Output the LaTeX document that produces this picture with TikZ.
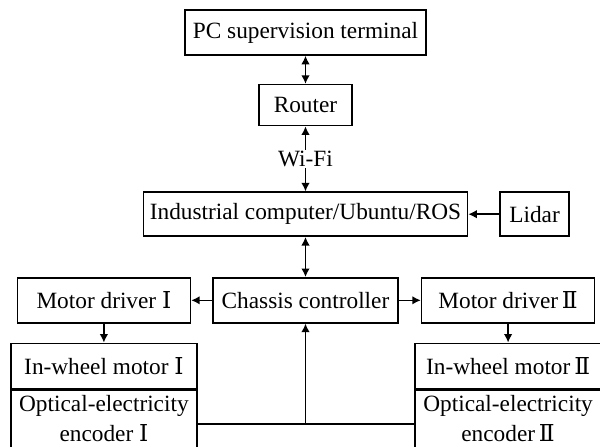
\documentclass[tikz,border=0pt]{standalone}
\usepackage{fontspec}
\setmainfont{Liberation Serif}
\newfontfamily\rnfont{DejaVu Serif}
\usetikzlibrary{arrows.meta,positioning}

\newcommand{\rn}[1]{{\rnfont #1}}

\begin{document}
\begin{tikzpicture}[x=1pt,y=-1pt,
  font=\fontsize{23.3}{30}\selectfont,
  block/.style={draw,line width=1.6pt,inner sep=1pt,align=center,minimum height=45pt},
  arrow/.style={-{Latex[length=8.5pt,width=8.5pt]}, line width=1.5pt},
  dblarrow/.style={{Latex[length=8.5pt,width=8.5pt]}-{Latex[length=8.5pt,width=8.5pt]}, line width=1.5pt}]
  \clip (0,0) rectangle (600,447);
  \node[block, minimum width=241pt] (pc) at (305.5,32.5) {PC supervision terminal};
  \node[block, minimum width=93pt, minimum height=41pt, below=28pt of pc] (router) {Router};
  \node[block, minimum width=324pt, minimum height=44pt, below=65pt of router] (ipc) {Industrial computer/Ubuntu/ROS};
  \node[block, minimum width=69pt, minimum height=44pt, right=31pt of ipc] (lidar) {Lidar};
  \node[block, minimum width=185pt, below=40pt of ipc] (chassis) {Chassis controller};
  \node[block, minimum width=173pt, left=21pt of chassis] (drv1) {Motor driver \rn{Ⅰ}};
  \node[block, minimum width=173pt, right=22pt of chassis] (drv2) {Motor driver\,\rn{Ⅱ}};
  \node[block, minimum width=186pt, below=19pt of drv1] (whl1) {In-wheel motor \rn{Ⅰ}};
  \node[block, minimum width=186pt, below=19pt of drv2] (whl2) {In-wheel motor\,\rn{Ⅱ}};
  \node[block, minimum width=186pt, minimum height=68pt, text depth=12pt, below=0pt of whl1] (enc1) {Optical-electricity\\encoder \rn{Ⅰ}};
  \node[block, minimum width=186pt, minimum height=68pt, text depth=12pt, below=0pt of whl2] (enc2) {Optical-electricity\\encoder\,\rn{Ⅱ}};
  % links
  \draw[dblarrow] (pc) -- (router);
  \draw[dblarrow] (router) -- node[fill=white,inner sep=1pt] (wifi) {Wi-Fi} (ipc);
  \draw[arrow] (lidar) -- (ipc);
  \draw[dblarrow] (ipc) -- (chassis);
  \draw[arrow] (chassis) -- (drv1);
  \draw[arrow] (chassis) -- (drv2);
  \draw[arrow] (drv1) -- (whl1);
  \draw[arrow] (drv2) -- (whl2);
  % encoder feedback
  \draw[line width=1.5pt] (enc1.east) -- (enc2.west);
  \draw[arrow] (enc1.east -| chassis.south) -- (chassis.south);
\end{tikzpicture}
\end{document}
